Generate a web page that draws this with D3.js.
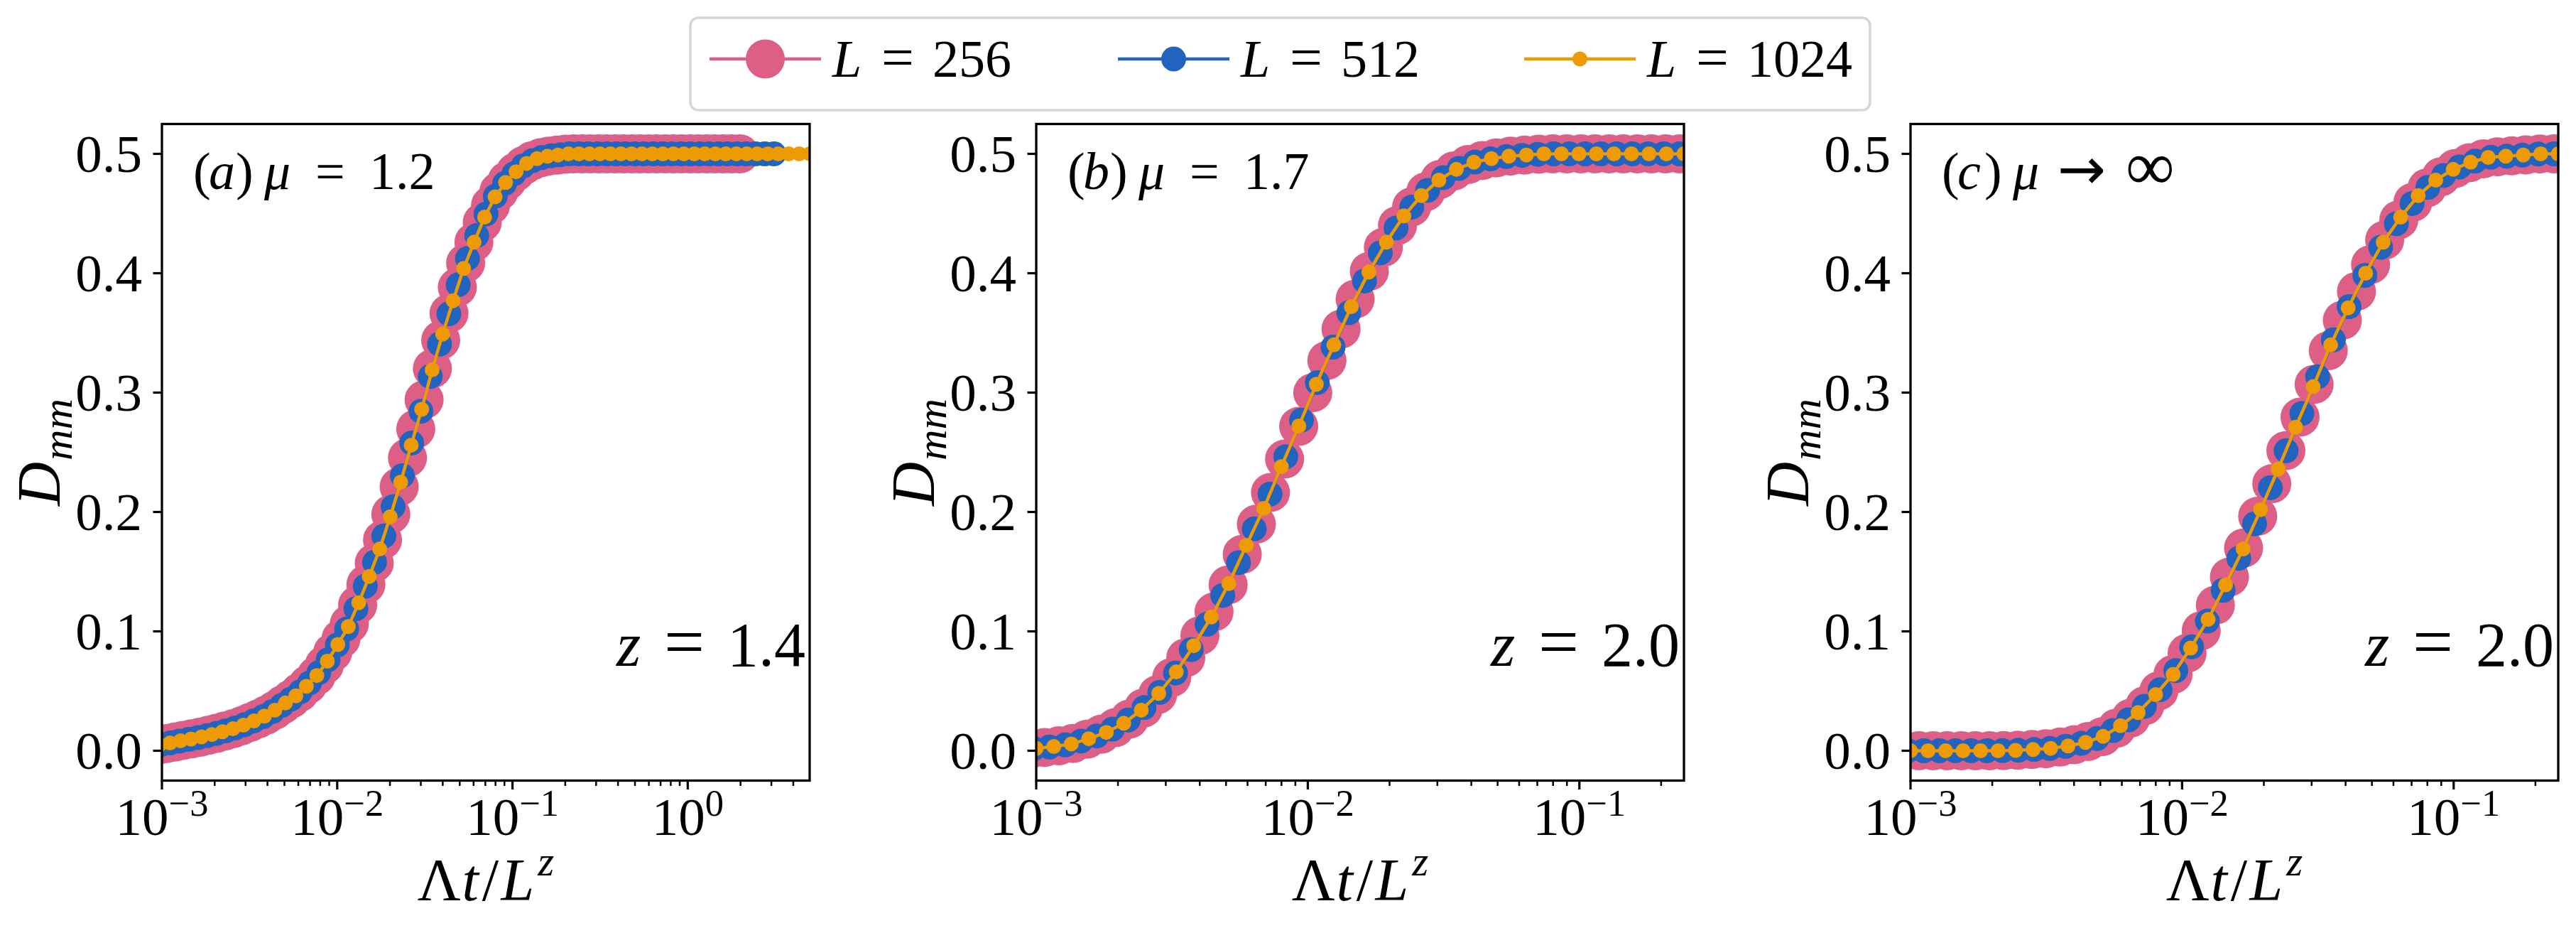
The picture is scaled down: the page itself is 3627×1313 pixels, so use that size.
<!DOCTYPE html>
<html>
<head>
<meta charset="utf-8">
<script src="https://cdn.jsdelivr.net/npm/d3@7"></script>
<style>
  html, body { margin: 0; padding: 0; background: #fff; }
  svg text { font-family: "Liberation Serif", "DejaVu Serif", serif; fill: #000; }
</style>
</head>
<body>
<div id="chart"></div>
<script>
// ---- data ----

// panel (a), mu = 1.2
const xA_256 = [0.000953, 0.001063, 0.001185, 0.001322, 0.001474, 0.001644, 0.001834, 0.002045, 0.002281, 0.002544,
  0.002838, 0.003165, 0.003530, 0.003937, 0.004391, 0.004897, 0.005462, 0.006092, 0.006794, 0.007578,
  0.008451, 0.009426, 0.01051, 0.01172, 0.01308, 0.01458, 0.01627, 0.01814, 0.02023, 0.02257,
  0.02517, 0.02807, 0.03131, 0.03492, 0.03895, 0.04344, 0.04845, 0.05404, 0.06027, 0.06722,
  0.07497, 0.08361, 0.09325, 0.1040, 0.1160, 0.1294, 0.1443, 0.1609, 0.1795, 0.2002,
  0.2233, 0.2490, 0.2777, 0.3098, 0.3455, 0.3853, 0.4298, 0.4793, 0.5346, 0.5962,
  0.6650, 0.7417, 0.8272, 0.9226, 1.029, 1.148, 1.280, 1.428, 1.592, 1.776, 1.981];
const yA_256 = [0.0048, 0.0060, 0.0073, 0.0087, 0.0099, 0.0113, 0.0129, 0.0146, 0.0165, 0.0184,
  0.0208, 0.0236, 0.0266, 0.0299, 0.0339, 0.0386, 0.0434, 0.0488, 0.0553, 0.0625,
  0.0718, 0.0824, 0.0938, 0.1062, 0.1221, 0.1393, 0.1572, 0.1766, 0.1981, 0.2211,
  0.2454, 0.2695, 0.2940, 0.3201, 0.3439, 0.3664, 0.3882, 0.4085, 0.4260, 0.4426,
  0.4569, 0.4685, 0.4775, 0.4847, 0.4903, 0.4942, 0.4967, 0.4981, 0.4989, 0.4997,
  0.5, 0.5, 0.5, 0.5, 0.5, 0.5, 0.5, 0.5, 0.5, 0.5,
  0.5, 0.5, 0.5, 0.5, 0.5, 0.5, 0.5, 0.5, 0.5, 0.5, 0.5];

const xA_512 = [0.000873, 0.000986, 0.001114, 0.001259, 0.001422, 0.001607, 0.001816, 0.002051, 0.002317, 0.002618,
  0.002958, 0.003342, 0.003776, 0.004266, 0.004820, 0.005445, 0.006152, 0.006951, 0.007853, 0.008872,
  0.01002, 0.01132, 0.01279, 0.01445, 0.01633, 0.01845, 0.02084, 0.02355, 0.02661, 0.03006,
  0.03396, 0.03837, 0.04335, 0.04898, 0.05534, 0.06252, 0.07063, 0.07980, 0.09016, 0.1019,
  0.1151, 0.1300, 0.1469, 0.1660, 0.1875, 0.2118, 0.2393, 0.2704, 0.3055, 0.3451,
  0.3899, 0.4405, 0.4977, 0.5623, 0.6353, 0.7178, 0.8110, 0.9162, 1.035, 1.170,
  1.321, 1.493, 1.687, 1.906, 2.153, 2.433, 2.748, 3.105];
const yA_512 = [0.0040, 0.0052, 0.0065, 0.0081, 0.0095, 0.0110, 0.0127, 0.0146, 0.0167, 0.0191,
  0.0218, 0.0250, 0.0285, 0.0328, 0.0379, 0.0432, 0.0494, 0.0568, 0.0654, 0.0762,
  0.0886, 0.1019, 0.1189, 0.1378, 0.1579, 0.1799, 0.2044, 0.2304, 0.2578, 0.2844,
  0.3135, 0.3406, 0.3660, 0.3903, 0.4123, 0.4316, 0.4496, 0.4645, 0.4751, 0.4833,
  0.4899, 0.4943, 0.4969, 0.4984, 0.4992, 0.5, 0.5, 0.5, 0.5, 0.5,
  0.5, 0.5, 0.5, 0.5, 0.5, 0.5, 0.5, 0.5, 0.5, 0.5,
  0.5, 0.5, 0.5, 0.5, 0.5, 0.5, 0.5, 0.5];

const xA_1024 = [0.000969, 0.001112, 0.001276, 0.001465, 0.001681, 0.001929, 0.002214, 0.002541, 0.002917, 0.003347,
  0.003842, 0.004409, 0.005060, 0.005808, 0.006666, 0.007650, 0.008780, 0.01008, 0.01157, 0.01327,
  0.01523, 0.01748, 0.02006, 0.02303, 0.02643, 0.03033, 0.03481, 0.03995, 0.04585, 0.05263,
  0.06040, 0.06932, 0.07956, 0.09131, 0.1048, 0.1203, 0.1380, 0.1584, 0.1818, 0.2087,
  0.2395, 0.2749, 0.3155, 0.3621, 0.4155, 0.4769, 0.5473, 0.6282, 0.7210, 0.8275,
  0.9497, 1.090, 1.251, 1.436, 1.648, 1.891, 2.171, 2.491, 2.859, 3.281,
  3.766, 4.322, 4.961];
const yA_1024 = [0.0050, 0.0065, 0.0083, 0.0098, 0.0116, 0.0136, 0.0159, 0.0184, 0.0214, 0.0250,
  0.0290, 0.0340, 0.0400, 0.0460, 0.0540, 0.0630, 0.0750, 0.0890, 0.1040, 0.1240,
  0.1460, 0.1690, 0.1960, 0.2250, 0.2560, 0.2860, 0.3190, 0.3490, 0.3770, 0.4040,
  0.4260, 0.4470, 0.4640, 0.4760, 0.4850, 0.4920, 0.4960, 0.4980, 0.4990, 0.5,
  0.5, 0.5, 0.5, 0.5, 0.5, 0.5, 0.5, 0.5, 0.5, 0.5,
  0.5, 0.5, 0.5, 0.5, 0.5, 0.5, 0.5, 0.5, 0.5, 0.5,
  0.5, 0.5, 0.5];

// panels (b) and (c) share the same x samples (z = 2.0 in both)
const xBC_256 = [0.000953, 0.001074, 0.001211, 0.001365, 0.001538, 0.001734, 0.001954, 0.002202, 0.002482, 0.002798,
  0.003153, 0.003554, 0.004006, 0.004515, 0.005089, 0.005736, 0.006465, 0.007287, 0.008213, 0.009257,
  0.01043, 0.01176, 0.01326, 0.01494, 0.01684, 0.01898, 0.02139, 0.02411, 0.02718, 0.03063,
  0.03453, 0.03891, 0.04386, 0.04943, 0.05572, 0.06280, 0.07078, 0.07978, 0.08992, 0.1013,
  0.1142, 0.1288, 0.1451, 0.1636, 0.1844, 0.2078, 0.2342, 0.2640];
const xBC_512 = [0.000979, 0.001119, 0.001279, 0.001462, 0.001671, 0.001909, 0.002182, 0.002494, 0.002850, 0.003258,
  0.003723, 0.004255, 0.004863, 0.005558, 0.006352, 0.007260, 0.008297, 0.009483, 0.01084, 0.01239,
  0.01416, 0.01618, 0.01849, 0.02113, 0.02415, 0.02761, 0.03155, 0.03606, 0.04121, 0.04710,
  0.05383, 0.06152, 0.07031, 0.08036, 0.09184, 0.1050, 0.1200, 0.1371, 0.1567, 0.1791,
  0.2047, 0.2339, 0.2674];
const xBC_1024 = [0.001000, 0.001160, 0.001346, 0.001561, 0.001811, 0.002100, 0.002436, 0.002826, 0.003278, 0.003803,
  0.004411, 0.005117, 0.005936, 0.006886, 0.007988, 0.009266, 0.01075, 0.01247, 0.01446, 0.01678,
  0.01946, 0.02258, 0.02619, 0.03038, 0.03524, 0.04088, 0.04742, 0.05501, 0.06381, 0.07402,
  0.08587, 0.09961, 0.1155, 0.1340, 0.1555, 0.1804, 0.2092, 0.2427];

// panel (b), mu = 1.7
const yB_256 = [0.0015, 0.0027, 0.0041, 0.0061, 0.0096, 0.0138, 0.0193, 0.0265, 0.0357, 0.0470,
  0.0613, 0.0779, 0.0964, 0.1163, 0.1389, 0.1645, 0.1898, 0.2163, 0.2443, 0.2717,
  0.2999, 0.3269, 0.3532, 0.3783, 0.4016, 0.4217, 0.4400, 0.4555, 0.4682, 0.4785,
  0.4857, 0.4910, 0.4944, 0.4966, 0.4981, 0.4989, 0.4997, 0.5, 0.5, 0.5,
  0.5, 0.5, 0.5, 0.5, 0.5, 0.5, 0.5, 0.5];
const yB_512 = [0.0018, 0.0031, 0.0049, 0.0081, 0.0124, 0.0181, 0.0258, 0.0361, 0.0489, 0.0651,
  0.0847, 0.1059, 0.1301, 0.1575, 0.1858, 0.2150, 0.2463, 0.2770, 0.3084, 0.3381,
  0.3669, 0.3935, 0.4170, 0.4378, 0.4554, 0.4694, 0.4801, 0.4878, 0.4931, 0.4958,
  0.4977, 0.4987, 0.4996, 0.5, 0.5, 0.5, 0.5, 0.5, 0.5, 0.5,
  0.5, 0.5, 0.5];
const yB_1024 = [0.0020, 0.0035, 0.0057, 0.0100, 0.0154, 0.0230, 0.0340, 0.0480, 0.0660, 0.0880,
  0.1120, 0.1400, 0.1720, 0.2030, 0.2380, 0.2720, 0.3070, 0.3400, 0.3720, 0.4010,
  0.4260, 0.4480, 0.4650, 0.4780, 0.4870, 0.4930, 0.4960, 0.4980, 0.4990, 0.5,
  0.5, 0.5, 0.5, 0.5, 0.5, 0.5, 0.5, 0.5];

// panel (c), mu -> infinity
const yC_256 = [0, 0, 0, 0, 0, 0, 0, 0.0001, 0.0004, 0.0010,
  0.0017, 0.0031, 0.0050, 0.0078, 0.0118, 0.0189, 0.0273, 0.0377, 0.0502, 0.0639,
  0.0816, 0.1005, 0.1219, 0.1455, 0.1698, 0.1964, 0.2236, 0.2514, 0.2794, 0.3069,
  0.3351, 0.3606, 0.3847, 0.4072, 0.4278, 0.4447, 0.4595, 0.4715, 0.4808, 0.4877,
  0.4925, 0.4959, 0.4975, 0.4983, 0.4991, 0.4999, 0.5, 0.5];
const yC_512 = [0, 0, 0, 0, 0, 0, 0.0001, 0.0004, 0.0010, 0.0019,
  0.0037, 0.0062, 0.0102, 0.0169, 0.0259, 0.0372, 0.0511, 0.0671, 0.0870, 0.1086,
  0.1344, 0.1612, 0.1901, 0.2203, 0.2513, 0.2825, 0.3133, 0.3442, 0.3720, 0.3981,
  0.4217, 0.4414, 0.4584, 0.4719, 0.4819, 0.4890, 0.4939, 0.4971, 0.4980, 0.4989,
  0.4998, 0.5, 0.5];
const yC_1024 = [0, 0, 0, 0, 0, 0, 0.0003, 0.0010, 0.0020, 0.0040,
  0.0070, 0.0120, 0.0210, 0.0320, 0.0470, 0.0640, 0.0860, 0.1100, 0.1390, 0.1690,
  0.2020, 0.2360, 0.2710, 0.3050, 0.3400, 0.3710, 0.4000, 0.4260, 0.4470, 0.4650,
  0.4780, 0.4870, 0.4930, 0.4970, 0.4980, 0.4990, 0.5, 0.5];

const legendSizes = ["256", "512", "1024"];
const panelTags = ["a", "b", "c"];
const panelMu = ["1.2", "1.7", "∞"];
const panelZ = ["1.4", "2.0", "2.0"];
const xMaxes = [4.96, 0.2427, 0.2427];

const yTicks = [0, 0.1, 0.2, 0.3, 0.4, 0.5];
const yTickLabels = ["0.0", "0.1", "0.2", "0.3", "0.4", "0.5"];
const xTicksA = [1e-3, 1e-2, 1e-1, 1];
const xExpA = ["−3", "−2", "−1", "0"];
const xTicksBC = [1e-3, 1e-2, 1e-1];
const xExpBC = ["−3", "−2", "−1"];

// ---- styling ----
const colors = ["#dd5f86", "#2263c0", "#ed9a05"];
const radii = [27.5, 17.5, 10.5];
const lineW = 4.5;

const width = 3627, height = 1313;
const panelW = 912;
const axTop = 174.5, axBottom = 1098.5;
const lefts = [228, 1459, 2690];
const tickFont = 75;

const svg = d3.select("#chart")
  .append("svg")
  .attr("width", width)
  .attr("height", height)
  .style("background", "white");

// text from pieces; a piece may carry italic, size factor, dx/dy (in em), an absolute x offset or a font
function mathText(parent, x, y, anchor, size, pieces) {
  const t = parent.append("text")
    .attr("x", x).attr("y", y)
    .attr("text-anchor", anchor)
    .attr("font-size", size);
  pieces.forEach(p => {
    const s = t.append("tspan").text(p.t);
    if (p.i) s.attr("font-style", "italic");
    if (p.s) s.attr("font-size", size * p.s);
    if (p.f) s.style("font-family", p.f);
    if (p.at !== undefined) s.attr("x", x + p.at);
    if (p.dx) s.attr("dx", p.dx * size);
    if (p.dy) s.attr("dy", p.dy * size);
  });
  return t;
}

const panels = [
  { series: [[xA_256, yA_256], [xA_512, yA_512], [xA_1024, yA_1024]], ticks: xTicksA, exps: xExpA },
  { series: [[xBC_256, yB_256], [xBC_512, yB_512], [xBC_1024, yB_1024]], ticks: xTicksBC, exps: xExpBC },
  { series: [[xBC_256, yC_256], [xBC_512, yC_512], [xBC_1024, yC_1024]], ticks: xTicksBC, exps: xExpBC }
];

const y = d3.scaleLinear().domain([-0.025, 0.525]).range([axBottom, axTop]);

panels.forEach((p, pi) => {
  const left = lefts[pi];
  const right = left + panelW;
  const x = d3.scaleLog().domain([1e-3, xMaxes[pi]]).range([left, right]);
  const g = svg.append("g");

  g.append("clipPath").attr("id", "clip-" + pi)
    .append("rect")
    .attr("x", left).attr("y", axTop)
    .attr("width", panelW).attr("height", axBottom - axTop);

  const plot = g.append("g").attr("clip-path", `url(#clip-${pi})`);
  const line = d3.line().x(d => x(d[0])).y(d => y(d[1]));

  p.series.forEach((s, si) => {
    const pts = s[0].map((v, i) => [v, s[1][i]]);
    plot.append("path")
      .datum(pts)
      .attr("d", line)
      .attr("fill", "none")
      .attr("stroke", colors[si])
      .attr("stroke-width", lineW)
      .attr("stroke-linejoin", "round");
    plot.append("g")
      .selectAll("circle")
      .data(pts)
      .join("circle")
      .attr("cx", d => x(d[0]))
      .attr("cy", d => y(d[1]))
      .attr("r", radii[si])
      .attr("fill", colors[si]);
  });

  // y ticks
  yTicks.forEach((v, i) => {
    g.append("line")
      .attr("x1", left - 12.5).attr("x2", left)
      .attr("y1", y(v)).attr("y2", y(v))
      .attr("stroke", "#000").attr("stroke-width", 3.2);
    g.append("text")
      .attr("x", left - 28).attr("y", y(v) + 0.34 * tickFont)
      .attr("text-anchor", "end")
      .attr("font-size", tickFont)
      .text(yTickLabels[i]);
  });

  // x minor ticks
  const [d0, d1] = x.domain();
  for (let e = -3; e <= 0; e++) {
    for (let m = 2; m <= 9; m++) {
      const v = m * Math.pow(10, e);
      if (v <= d0 || v >= d1) continue;
      g.append("line")
        .attr("x1", x(v)).attr("x2", x(v))
        .attr("y1", axBottom).attr("y2", axBottom + 7.5)
        .attr("stroke", "#000").attr("stroke-width", 2.5);
    }
  }
  // x major ticks
  p.ticks.forEach((v, i) => {
    g.append("line")
      .attr("x1", x(v)).attr("x2", x(v))
      .attr("y1", axBottom).attr("y2", axBottom + 12.5)
      .attr("stroke", "#000").attr("stroke-width", 3.2);
    mathText(g, x(v), 1175, "middle", tickFont, [
      { t: "10" },
      { t: p.exps[i], s: 0.7, dy: -0.36 }
    ]);
  });

  // frame
  g.append("rect")
    .attr("x", left).attr("y", axTop)
    .attr("width", panelW).attr("height", axBottom - axTop)
    .attr("fill", "none")
    .attr("stroke", "#000")
    .attr("stroke-width", 3.3);

  // axis labels
  mathText(g, left + panelW / 2, 1267, "middle", 84, [
    { t: "Λ" },
    { t: "t", i: true, dx: 0.02 },
    { t: "/", dx: 0.06 },
    { t: "L", i: true, dx: 0.04 },
    { t: "z", i: true, s: 0.7, dx: 0.06, dy: -0.42 }
  ]);

  const yl = g.append("g").attr("transform", `translate(${left - 144},${(axTop + axBottom) / 2}) rotate(-90)`);
  mathText(yl, 0, 0, "middle", 86, [
    { t: "D", i: true },
    { t: "mm", i: true, s: 0.7, dx: 0.02, dy: 0.2 }
  ]);

  // panel annotations, pieces placed at measured offsets
  const muPieces = pi < 2
    ? [{ t: "=", at: 216 }, { t: panelMu[pi], at: 292 }]
    : [{ t: "→", at: 207, s: 1.1, f: "DejaVu Sans" }, { t: panelMu[pi], at: 303, s: 1.3 }];
  mathText(g, left, 266, "start", 74, [
    { t: "(", at: 44 },
    { t: panelTags[pi], i: true, at: 66 },
    { t: ")", at: 104 },
    { t: "μ", i: true, at: 144 }
  ].concat(muPieces));

  mathText(g, right, 937, "start", 88, [
    { t: "z", i: true, at: -272 },
    { t: "=", at: -205, s: 1.15 },
    { t: panelZ[pi], at: -116 }
  ]);
});

// legend
const legend = svg.append("g");
legend.append("rect")
  .attr("x", 972).attr("y", 25)
  .attr("width", 1661).attr("height", 130)
  .attr("rx", 11)
  .attr("fill", "white")
  .attr("stroke", "#d6d6d6")
  .attr("stroke-width", 3.5);

const handleX = [999, 1574, 2146];
const textX = [1172, 1747, 2319];
legendSizes.forEach((lab, i) => {
  legend.append("line")
    .attr("x1", handleX[i]).attr("x2", handleX[i] + 157)
    .attr("y1", 83).attr("y2", 83)
    .attr("stroke", colors[i]).attr("stroke-width", lineW);
  legend.append("circle")
    .attr("cx", handleX[i] + 78.5).attr("cy", 83)
    .attr("r", radii[i])
    .attr("fill", colors[i]);
  mathText(legend, textX[i], 108, "start", 74, [
    { t: "L", i: true, at: 0 },
    { t: "=", at: 69, s: 1.1 },
    { t: lab, at: 141 }
  ]);
});
</script>
</body>
</html>
